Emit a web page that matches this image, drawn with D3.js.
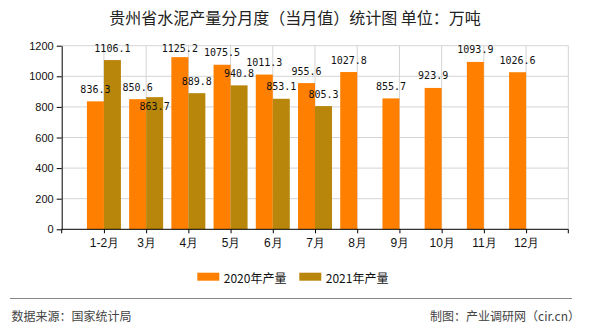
<!DOCTYPE html>
<meta charset="utf-8">
<style>
body{margin:0;background:#fff;}
svg{display:block;font-family:"Noto Sans CJK SC","Noto Sans",sans-serif;}
</style>
<body>
<script src="https://cdn.jsdelivr.net/npm/d3@7"></script>
<script>
var months = ["1-2月","3月","4月","5月","6月","7月","8月","9月","10月","11月","12月"];
var v2020 = [836.3, 850.6, 1125.2, 1075.5, 1011.3, 955.6, 1027.8, 855.7, 923.9, 1093.9, 1026.6];
var v2021 = [1106.1, 863.7, 889.8, 940.8, 853.1, 805.3];
var seriesNames = ["2020年产量","2021年产量"];
var colors = ["#ff8000","#b8860b"];
var yTicks = [0,200,400,600,800,1000,1200];

var w = 590, h = 330;
var plotL = 61.7, plotR = 568.3, plotT = 45.7, plotB = 229.3;
var step = (plotR - plotL) / (months.length + 1);
var barW = 17;

var svg = d3.select("body").append("svg").attr("width", w).attr("height", h);

// title
svg.append("text")
  .attr("x", 295).attr("y", 24)
  .attr("text-anchor","middle")
  .style("font-size","16px").attr("fill","#222")
  .text("贵州省水泥产量分月度（当月值）统计图 单位：万吨");

var x = d3.scalePoint().domain(months).range([plotL + step, plotR - step]);
var y = d3.scaleLinear().domain([0,1200]).range([plotB, plotT]);

// grid
svg.append("g").selectAll("line").data(yTicks.slice(1)).enter().append("line")
  .attr("x1", plotL).attr("x2", plotR)
  .attr("y1", d => y(d)).attr("y2", d => y(d))
  .attr("stroke","#d4d4d4");
svg.append("g").selectAll("line").data(months).enter().append("line")
  .attr("x1", d => x(d)).attr("x2", d => x(d))
  .attr("y1", plotT).attr("y2", plotB)
  .attr("stroke","#d4d4d4");
svg.append("line").attr("x1", plotR).attr("x2", plotR).attr("y1", plotT).attr("y2", plotB).attr("stroke","#d4d4d4");

// bars
var rows = months.map(function(m, i){ return {m: m, a: v2020[i], b: v2021[i]}; });
svg.append("g").selectAll("rect").data(rows).enter().append("rect")
  .attr("x", d => x(d.m) - barW).attr("width", barW)
  .attr("y", d => y(d.a)).attr("height", d => plotB - y(d.a))
  .attr("fill", colors[0]);
svg.append("g").selectAll("rect").data(rows.filter(d => d.b != null)).enter().append("rect")
  .attr("x", d => x(d.m)).attr("width", barW)
  .attr("y", d => y(d.b)).attr("height", d => plotB - y(d.b))
  .attr("fill", colors[1]);

// axes
var yAxis = svg.append("g").attr("transform","translate(" + plotL + ",0)")
  .call(d3.axisLeft(y).tickValues(yTicks).tickFormat(d3.format("d")).tickSize(5).tickSizeOuter(0).tickPadding(3));
yAxis.selectAll("text").style("font-family","'Liberation Sans',Arial,sans-serif").style("font-size","11px").attr("fill","#111");
yAxis.selectAll("line,path").attr("stroke","#000");

var xAxis = svg.append("g").attr("transform","translate(0," + plotB + ")")
  .call(d3.axisBottom(x).tickSize(4).tickSizeOuter(0).tickPadding(5));
xAxis.select(".domain").remove();
xAxis.selectAll("text").style("font-size","12px").attr("fill","#111");
xAxis.selectAll("line").attr("stroke","#000");
svg.append("path")
  .attr("d","M" + plotL + "," + (plotB + 4) + "V" + plotB + "H" + plotR + "V" + (plotB + 4))
  .attr("fill","none").attr("stroke","#000");

// value labels
function labY(v){ return Math.max(y(v) - 8.5, 52); }
var lab = svg.append("g").style("font-family","'DejaVu Sans Mono',monospace").style("font-size","10px").attr("fill","#111").attr("text-anchor","middle");
rows.forEach(function(d){
  var ya = labY(d.a);
  lab.append("text").attr("x", x(d.m) - barW/2).attr("y", ya).text(d.a.toFixed(1));
  if (d.b != null) {
    var yb = labY(d.b);
    if (Math.abs(yb - ya) < 12) yb = ya + 19;
    lab.append("text").attr("x", x(d.m) + barW/2).attr("y", yb).text(d.b.toFixed(1));
  }
});

// legend
var lg = svg.append("g");
var legX = [197.3, 299.3];
seriesNames.forEach(function(n, i){
  lg.append("rect").attr("x", legX[i]).attr("y", 272.7).attr("width", 22).attr("height", 8).attr("fill", colors[i]);
  lg.append("text").attr("x", legX[i] + 26.5).attr("y", 283).style("font-size","12px").attr("fill","#111").text(n);
});

// footer
svg.append("line").attr("x1",10).attr("x2",572).attr("y1",298.5).attr("y2",298.5).attr("stroke","#888").attr("stroke-width",1.2);
svg.append("text").attr("x",11.5).attr("y",321).style("font-size","12px").attr("fill","#444").text("数据来源：国家统计局");
svg.append("text").attr("x",580).attr("y",321).attr("text-anchor","end").style("font-size","12px").attr("fill","#444").text("制图：产业调研网（cir.cn）");
</script>
</body>
